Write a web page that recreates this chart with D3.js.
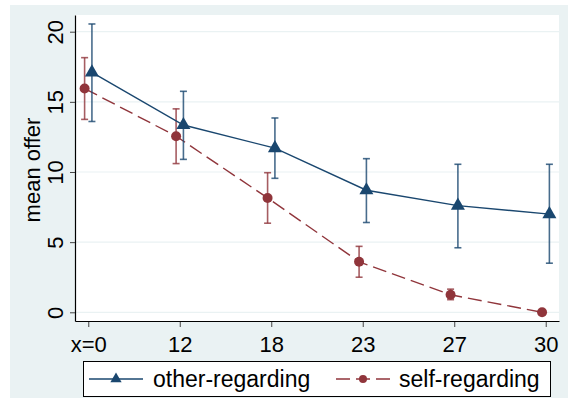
<!DOCTYPE html>
<html>
<head>
<meta charset="utf-8">
<script src="https://cdn.jsdelivr.net/npm/d3@7"></script>
<style>
  body { margin: 0; background: #fff; }
  svg { display: block; font-family: "Liberation Sans", Arial, sans-serif; }
</style>
</head>
<body>
<div id="chart"></div>
<script>
// Chart data
const categories = ["x=0", "12", "18", "23", "27", "30"];
const yTicks = [0, 5, 10, 15, 20];

const otherMean = [17.1, 13.35, 11.7, 8.7, 7.6, 7.0];
const otherLo = [13.6, 10.9, 9.55, 6.4, 4.6, 3.5];
const otherHi = [20.55, 15.75, 13.85, 10.95, 10.55, 10.55];

const selfMean = [15.95, 12.55, 8.15, 3.6, 1.25, 0.0];
const selfLo = [13.75, 10.6, 6.35, 2.5, 0.9, 0.0];
const selfHi = [18.15, 14.5, 9.95, 4.7, 1.65, 0.0];

const seriesNames = ["other-regarding", "self-regarding"];

function createChart(selector) {
    const width = 568;
    const height = 398;
    const plot = { left: 75, right: 559, top: 15, bottom: 321 };
    const blue = "#1a476f";
    const red = "#90353b";
    const bg = "#eaf2f3";

    const svg = d3.select(selector)
        .append("svg")
        .attr("width", width)
        .attr("height", height);

    // Outer background and plot region
    svg.append("rect")
        .attr("x", 10).attr("y", 5)
        .attr("width", width - 10).attr("height", height - 5)
        .attr("fill", bg);

    svg.append("rect")
        .attr("x", plot.left).attr("y", plot.top)
        .attr("width", plot.right - plot.left)
        .attr("height", plot.bottom - plot.top)
        .attr("fill", "#fff");

    // Scales
    const xScale = d3.scaleLinear()
        .domain([-0.145, categories.length - 1 + 0.145])
        .range([plot.left, plot.right]);

    const yScale = d3.scaleLinear()
        .domain([-0.62, 21.19])
        .range([plot.bottom, plot.top]);

    // Gridlines
    svg.append("g")
        .selectAll("line")
        .data(yTicks)
        .join("line")
        .attr("x1", plot.left)
        .attr("x2", plot.right)
        .attr("y1", d => yScale(d))
        .attr("y2", d => yScale(d))
        .attr("stroke", bg)
        .attr("stroke-width", 1.2);

    // Axes
    const yAxis = svg.append("g")
        .attr("transform", `translate(${plot.left},0)`)
        .call(d3.axisLeft(yScale).tickValues(yTicks).tickSize(5).tickSizeOuter(0));

    yAxis.select(".domain").attr("stroke", "#000").attr("stroke-width", 1.2);
    yAxis.selectAll(".tick line").attr("stroke", "#444");
    yAxis.selectAll(".tick text")
        .attr("x", null)
        .attr("dy", null)
        .attr("y", -12.5)
        .attr("transform", "rotate(-90)")
        .attr("text-anchor", "middle")
        .attr("fill", "#000")
        .style("font-size", "22px")
        .style("font-family", "Liberation Sans, Arial, sans-serif");

    const xAxis = svg.append("g")
        .attr("transform", `translate(0,${plot.bottom})`)
        .call(d3.axisBottom(xScale)
            .tickValues(d3.range(categories.length))
            .tickFormat(i => categories[i])
            .tickSize(6)
            .tickSizeOuter(0));

    xAxis.select(".domain").attr("stroke", "#000").attr("stroke-width", 1.2);
    xAxis.selectAll(".tick line").attr("stroke", "#444").attr("y1", 1);
    xAxis.selectAll(".tick text")
        .attr("dy", null)
        .attr("y", 31)
        .attr("fill", "#000")
        .style("font-size", "22px")
        .style("font-family", "Liberation Sans, Arial, sans-serif");

    // Y axis title
    svg.append("text")
        .attr("transform", "translate(40,170) rotate(-90)")
        .attr("text-anchor", "middle")
        .style("font-size", "22px")
        .text("mean offer");

    // Series
    const series = [
        { name: seriesNames[0], mean: otherMean, lo: otherLo, hi: otherHi, color: blue, shift: 0.04, dash: null, marker: "triangle" },
        { name: seriesNames[1], mean: selfMean, lo: selfLo, hi: selfHi, color: red, shift: -0.04, dash: "14,6", marker: "circle" }
    ];

    const triangle = d3.symbol().type(d3.symbolTriangle).size(85);

    series.slice().reverse().forEach(s => {
        const pts = s.mean.map((v, i) => ({ x: i + s.shift, y: v, lo: s.lo[i], hi: s.hi[i] }));
        const g = svg.append("g");

        // Error bars
        const bars = pts.filter(d => d.hi > d.lo);
        g.selectAll("line.bar")
            .data(bars)
            .join("line")
            .attr("class", "bar")
            .attr("x1", d => xScale(d.x)).attr("x2", d => xScale(d.x))
            .attr("y1", d => yScale(d.lo)).attr("y2", d => yScale(d.hi))
            .attr("stroke", s.color).attr("stroke-opacity", 0.8).attr("stroke-width", 1.6);

        ["lo", "hi"].forEach(k => {
            g.selectAll(`line.cap-${k}`)
                .data(bars)
                .join("line")
                .attr("class", `cap-${k}`)
                .attr("x1", d => xScale(d.x) - 3.5).attr("x2", d => xScale(d.x) + 3.5)
                .attr("y1", d => yScale(d[k])).attr("y2", d => yScale(d[k]))
                .attr("stroke", s.color).attr("stroke-opacity", 0.8).attr("stroke-width", 1.6);
        });

        // Connecting line
        const line = d3.line().x(d => xScale(d.x)).y(d => yScale(d.y));
        g.append("path")
            .datum(pts)
            .attr("fill", "none")
            .attr("stroke", s.color)
            .attr("stroke-width", 1.4)
            .attr("stroke-dasharray", s.dash)
            .attr("d", line);

        // Markers
        if (s.marker === "circle") {
            g.selectAll("circle")
                .data(pts)
                .join("circle")
                .attr("cx", d => xScale(d.x))
                .attr("cy", d => yScale(d.y))
                .attr("r", 5)
                .attr("fill", s.color);
        } else {
            g.selectAll("path.mark")
                .data(pts)
                .join("path")
                .attr("class", "mark")
                .attr("transform", d => `translate(${xScale(d.x)},${yScale(d.y)})`)
                .attr("d", triangle)
                .attr("fill", s.color);
        }
    });

    // Legend
    const legend = svg.append("g");
    legend.append("rect")
        .attr("x", 83.5).attr("y", 361.5)
        .attr("width", 467).attr("height", 35)
        .attr("fill", "#fff")
        .attr("stroke", "#000")
        .attr("stroke-width", 1);

    const legendY = 379;
    const legendItems = [
        { x0: 89, x1: 143, textX: 153, s: series[0] },
        { x0: 336, x1: 390, textX: 399, s: series[1] }
    ];

    legendItems.forEach(item => {
        legend.append("line")
            .attr("x1", item.x0).attr("x2", item.x1)
            .attr("y1", legendY).attr("y2", legendY)
            .attr("stroke", item.s.color)
            .attr("stroke-width", 1.4)
            .attr("stroke-dasharray", item.s.dash ? "14,6" : null);
        const cx = (item.x0 + item.x1) / 2;
        if (item.s.marker === "circle") {
            legend.append("circle")
                .attr("cx", cx).attr("cy", legendY).attr("r", 4)
                .attr("fill", item.s.color);
        } else {
            legend.append("path")
                .attr("transform", `translate(${cx},${legendY})`)
                .attr("d", d3.symbol().type(d3.symbolTriangle).size(55))
                .attr("fill", item.s.color);
        }
        legend.append("text")
            .attr("x", item.textX).attr("y", 387)
            .style("font-size", "23px")
            .text(item.s.name);
    });
}

createChart("#chart");
</script>
</body>
</html>
